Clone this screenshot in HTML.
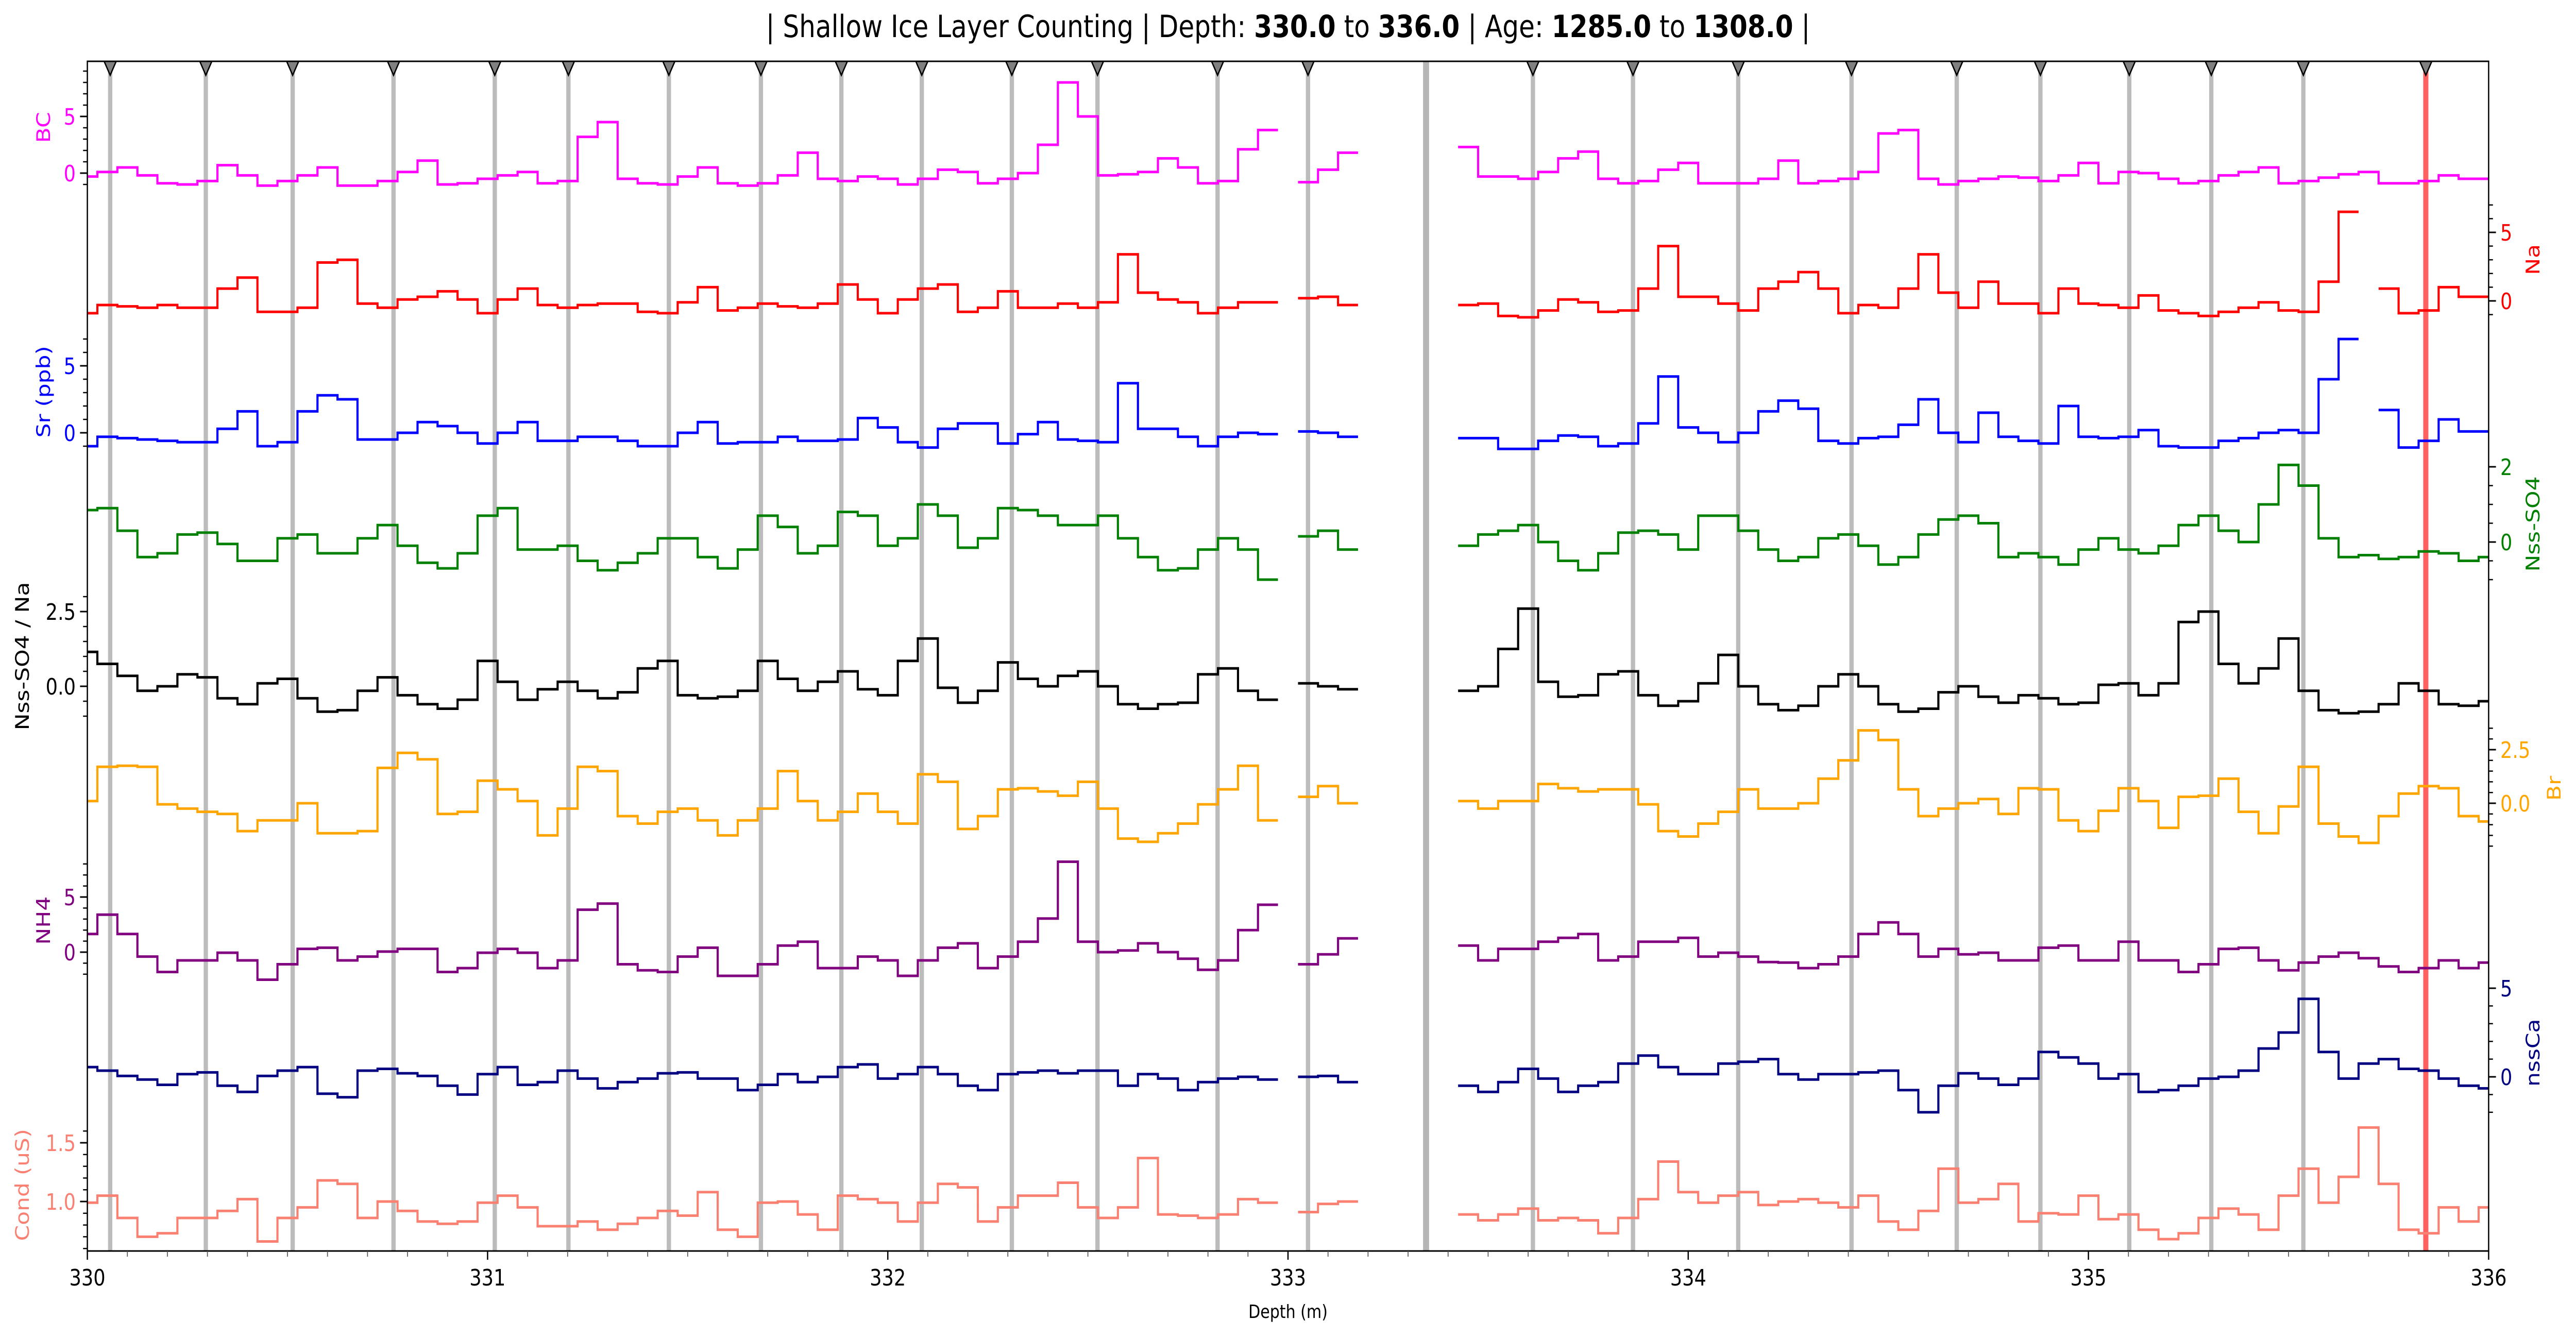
<!DOCTYPE html>
<html><head><meta charset="utf-8"><style>
html,body{margin:0;padding:0;background:#fff;width:100%;height:100%;overflow:hidden;}
svg{display:block;position:absolute;left:0;top:0;width:100vw;height:100vh;font-family:"DejaVu Sans","Liberation Sans",sans-serif;}
</style></head><body>
<svg id="chart" xmlns="http://www.w3.org/2000/svg" viewBox="0 0 5986 2593" preserveAspectRatio="none">
<rect x="0" y="0" width="5986" height="2593" fill="#fff"/>
<text x="2993" y="72" text-anchor="middle" font-size="60">| Shallow Ice Layer Counting | Depth: <tspan font-weight="bold">330.0</tspan> to <tspan font-weight="bold">336.0</tspan> | Age: <tspan font-weight="bold">1285.0</tspan> to <tspan font-weight="bold">1308.0</tspan> |</text>
<g id="layers"></g>
<g id="series"></g>
<g id="axes"></g>
<text x="2993" y="2558" text-anchor="middle" font-size="36">Depth (m)</text>
</svg>
<script>
const N = null;
const layerDepths = [330.057,330.296,330.513,330.765,331.018,331.202,331.453,331.683,331.884,332.085,332.31,332.524,332.824,333.05,333.612,333.862,334.125,334.408,334.671,334.88,335.102,335.307,335.537];
const gapDepth = 333.345;
const redDepth = 335.843;
const xTickValues = [330,331,332,333,334,335,336];
const xTickLabels = ["330","331","332","333","334","335","336"];

const bcValues = [-0.3,0.1,0.5,-0.2,-0.9,-1.0,-0.7,0.7,-0.2,-1.1,-0.7,-0.2,0.5,-1.1,-1.1,-0.7,0.1,1.1,-1.0,-0.9,-0.5,-0.2,0.1,-0.9,-0.7,3.2,4.5,-0.5,-0.9,-1.0,-0.3,
0.5,-0.9,-1.1,-0.9,-0.2,1.8,-0.5,-0.7,-0.3,-0.5,-1.0,-0.5,0.3,0.1,-0.9,-0.5,0,2.5,8.0,5.0,-0.2,-0.1,0.1,1.3,0.5,-0.9,-0.7,2.1,3.8,
N,-0.8,0.3,1.8,N,N,N,N,N,
2.3,-0.3,-0.3,-0.5,0.1,1.3,1.9,-0.5,-0.9,-0.7,0.3,0.9,-0.9,-0.9,-0.9,-0.5,1.1,-0.9,-0.7,-0.5,0.1,3.5,3.8,-0.5,-1.0,-0.7,
-0.5,-0.3,-0.4,-0.7,-0.2,0.9,-0.9,0.1,0,-0.5,-0.9,-0.7,-0.2,0.1,0.5,-0.9,-0.7,-0.4,-0.1,0.1,-0.9,-0.9,-0.7,-0.2,-0.5,-0.5];
const naValues = [-0.9,-0.3,-0.4,-0.5,-0.3,-0.5,-0.5,0.9,1.7,-0.8,-0.8,-0.5,2.8,3.0,-0.2,-0.5,0.1,0.3,0.7,0.1,-0.9,0.1,0.9,-0.3,-0.5,-0.3,-0.2,-0.2,-0.8,-0.9,
-0.1,1.0,-0.7,-0.5,-0.2,-0.4,-0.5,-0.2,1.2,0.1,-0.9,0.1,0.9,1.2,-0.8,-0.5,0.7,-0.5,-0.5,-0.2,-0.5,-0.1,3.4,0.6,0.1,-0.1,-0.9,-0.5,-0.1,-0.1,
N,0.2,0.3,-0.3,N,N,N,N,N,
-0.3,-0.2,-1.1,-1.2,-0.7,0.1,-0.1,-0.8,-0.7,0.9,4.0,0.3,0.3,-0.2,-0.7,0.9,1.4,2.1,0.9,-0.9,-0.3,-0.5,0.9,3.4,0.6,-0.5,
1.4,-0.2,-0.2,-0.9,0.9,-0.2,-0.3,-0.5,0.4,-0.7,-0.9,-1.1,-0.8,-0.5,-0.1,-0.7,-0.8,1.4,6.5,N,0.9,-0.9,-0.7,1.0,0.3,0.3];
const srValues = [-1.0,-0.3,-0.4,-0.5,-0.6,-0.7,-0.7,0.3,1.6,-1.0,-0.7,1.6,2.8,2.5,-0.5,-0.5,0,0.8,0.5,0,-0.8,0,0.8,-0.6,-0.6,-0.3,-0.3,-0.6,-1.0,-1.0,0,
0.8,-0.8,-0.7,-0.7,-0.3,-0.6,-0.6,-0.5,1.1,0.4,-0.7,-1.1,0.3,0.7,0.7,-0.8,-0.1,0.8,-0.5,-0.6,-0.7,3.7,0.3,0.3,-0.3,-1.0,-0.3,0,-0.1,
N,0.1,0,-0.3,N,N,N,N,N,
-0.4,-0.4,-1.2,-1.2,-0.6,-0.2,-0.3,-1.0,-0.8,0.7,4.2,0.4,0,-0.7,0,1.6,2.4,1.8,-0.6,-0.8,-0.4,-0.3,0.6,2.5,0,-0.7,
1.5,-0.3,-0.6,-0.8,2.0,-0.3,-0.4,-0.3,0.2,-1.0,-1.1,-1.1,-0.6,-0.4,0,0.2,0,4.0,7.0,N,1.7,-1.1,-0.6,1.0,0.1,0.1];
const so4Values = [0.85,0.9,0.3,-0.4,-0.3,0.2,0.25,-0.05,-0.5,-0.5,0.1,0.2,-0.3,-0.3,0.1,0.45,-0.1,-0.55,-0.7,-0.3,0.7,0.9,-0.2,-0.2,-0.1,-0.5,-0.75,-0.55,-0.3,0.1,0.1,
-0.4,-0.7,-0.2,0.7,0.4,-0.3,-0.1,0.8,0.7,-0.1,0.1,1.0,0.7,-0.15,0.1,0.9,0.85,0.7,0.45,0.45,0.7,0.1,-0.4,-0.75,-0.7,-0.2,0.1,-0.2,-1.0,
N,0.15,0.3,-0.2,N,N,N,N,N,
-0.1,0.2,0.3,0.45,0,-0.5,-0.75,-0.3,0.25,0.3,0.2,-0.2,0.7,0.7,0.3,-0.2,-0.5,-0.4,0.1,0.2,-0.1,-0.6,-0.4,0.2,0.6,0.7,
0.5,-0.4,-0.3,-0.4,-0.6,-0.2,0.1,-0.2,-0.3,-0.1,0.45,0.7,0.3,0,1.0,2.05,1.5,0.1,-0.4,-0.35,-0.45,-0.4,-0.25,-0.3,-0.5,-0.4];
const ratioValues = [1.15,0.75,0.35,-0.15,0,0.4,0.3,-0.4,-0.6,0.1,0.25,-0.4,-0.85,-0.8,-0.15,0.3,-0.3,-0.6,-0.75,-0.45,0.85,0.15,-0.45,-0.1,0.15,-0.15,-0.4,-0.2,0.6,0.85,-0.3,
-0.4,-0.35,-0.15,0.85,0.25,-0.15,0.15,0.5,-0.1,-0.3,0.85,1.6,-0.05,-0.55,-0.15,0.8,0.25,0,0.35,0.5,0,-0.6,-0.75,-0.6,-0.55,0.4,0.6,-0.15,-0.45,
N,0.1,0,-0.1,N,N,N,N,N,
-0.15,0,1.25,2.6,0.15,-0.35,-0.3,0.4,0.5,-0.3,-0.65,-0.5,0.1,1.05,0,-0.6,-0.8,-0.65,0,0.4,0,-0.6,-0.85,-0.75,-0.2,0,
-0.35,-0.55,-0.3,-0.4,-0.6,-0.55,0.05,0.1,-0.3,0.1,2.15,2.5,0.75,0.1,0.6,1.6,-0.15,-0.8,-0.9,-0.85,-0.6,0.1,-0.15,-0.6,-0.65,-0.5];
const brValues = [0.1,1.7,1.75,1.7,-0.05,-0.25,-0.4,-0.5,-1.3,-0.8,-0.8,0,-1.4,-1.4,-1.3,1.65,2.35,2.05,-0.5,-0.4,1.05,0.65,0.1,-1.5,-0.25,1.7,1.5,-0.6,-0.95,-0.4,-0.25,
-0.8,-1.5,-0.8,-0.25,1.5,0.1,-0.8,-0.4,0.45,-0.4,-0.95,1.35,1.0,-1.2,-0.6,0.65,0.7,0.55,0.35,1.0,-0.25,-1.65,-1.8,-1.4,-0.95,-0.05,0.65,1.75,-0.8,
N,0.3,0.8,0,N,N,N,N,N,
0.1,-0.25,0.1,0.1,0.9,0.7,0.55,0.65,0.65,-0.05,-1.3,-1.55,-0.95,-0.4,0.65,-0.25,-0.25,0,1.15,2.0,3.4,2.95,0.65,-0.6,-0.25,0,
0.2,-0.5,0.7,0.65,-0.8,-1.3,-0.35,0.7,0.1,-1.15,0.3,0.35,1.15,-0.4,-1.4,-0.15,1.7,-0.95,-1.55,-1.85,-0.6,0.45,0.8,0.7,-0.6,-0.85];
const nh4Values = [1.65,3.4,1.65,-0.4,-1.8,-0.75,-0.75,-0.05,-0.75,-2.5,-1.1,0.3,0.4,-0.75,-0.4,0.05,0.3,0.3,-1.8,-1.45,-0.05,0.3,-0.05,-1.45,-0.75,3.85,4.4,-1.1,-1.65,-1.8,-0.4,
0.4,-2.15,-2.15,-1.1,0.6,0.95,-1.45,-1.45,-0.4,-0.75,-2.15,-0.75,0.4,0.8,-1.45,-0.4,0.95,3.05,8.2,0.95,0,0.15,0.8,0,-0.6,-1.6,-0.75,2.0,4.3,
N,-1.1,-0.2,1.25,N,N,N,N,N,
0.6,-0.75,0.3,0.3,0.95,1.3,1.65,-0.75,-0.4,0.95,0.95,1.3,-0.4,-0.05,-0.4,-0.9,-0.95,-1.45,-1.1,-0.4,1.65,2.7,1.65,-0.4,0.3,-0.2,
-0.05,-0.75,-0.75,0.4,0.6,-0.75,-0.75,0.95,-0.75,-0.75,-1.8,-1.1,0.3,0.4,-0.75,-1.65,-0.95,-0.4,-0.05,-0.55,-1.3,-1.8,-1.45,-0.75,-1.45,-0.95];
const nsscaValues = [0.55,0.35,0.05,-0.15,-0.45,0.15,0.25,-0.5,-0.85,0.05,0.35,0.55,-0.95,-1.15,0.35,0.45,0.2,0.05,-0.5,-1.0,0.15,0.55,-0.45,-0.3,0.35,-0.1,-0.65,-0.3,-0.1,0.2,0.25,
-0.1,-0.1,-0.75,-0.45,0.15,-0.3,0,0.55,0.7,-0.1,0.15,0.55,0.15,-0.5,-0.75,0.15,0.25,0.35,0.2,0.35,0.35,-0.5,0.15,-0.1,-0.75,-0.3,-0.1,0,-0.15,
N,0,0.05,-0.3,N,N,N,N,N,
-0.5,-0.85,-0.3,0.45,-0.1,-0.85,-0.5,-0.3,0.75,1.2,0.55,0.15,0.15,0.75,0.85,1.0,0.15,-0.15,0.15,0.15,0.25,0.35,-0.75,-2.0,-0.5,0.2,
-0.1,-0.45,-0.1,1.4,1.1,0.75,-0.1,0.15,-0.85,-0.75,-0.5,-0.1,0,0.35,1.6,2.5,4.4,1.4,-0.1,0.75,1.0,0.45,0.35,-0.1,-0.5,-0.65];
const condValues = [0.99,1.05,0.86,0.7,0.73,0.86,0.86,0.92,1.02,0.66,0.86,0.95,1.18,1.15,0.86,1.0,0.92,0.83,0.81,0.83,0.99,1.05,0.95,0.79,0.79,0.83,0.76,0.81,0.86,0.92,0.88,
1.08,0.76,0.7,0.99,1.0,0.89,0.76,1.05,1.02,0.99,0.83,0.99,1.15,1.12,0.83,0.95,1.05,1.05,1.16,0.95,0.86,0.95,1.37,0.89,0.88,0.86,0.89,1.02,0.99,
N,0.91,0.98,1.0,N,N,N,N,N,
0.89,0.84,0.89,0.94,0.84,0.86,0.84,0.73,0.86,1.02,1.34,1.08,0.99,1.05,1.08,0.97,1.0,1.02,0.99,0.95,1.05,0.83,0.76,0.92,1.28,0.99,
1.02,1.15,0.83,0.9,0.89,1.05,0.85,0.89,0.76,0.68,0.73,0.86,0.94,0.89,0.76,1.05,1.28,0.99,1.21,1.63,1.15,0.76,0.73,0.95,0.83,0.95];

const bcTicks = ["0","5"], naTicks = ["0","5"], srTicks = ["0","5"], so4Ticks = ["0","2"], ratioTicks = ["0.0","2.5"], brTicks = ["0.0","2.5"], nh4Ticks = ["0","5"], nsscaTicks = ["0","5"], condTicks = ["1.0","1.5"];

const NS = "http://www.w3.org/2000/svg";
const L = 203, R = 5783, T = 119, B = 2428;
const bandH = (B - T) / 9;
const HALF = 0.025;
function xs(d){ return L + (d - 330) * 930; }
function mk(tag, attrs, parent){ const e = document.createElementNS(NS, tag); for (const k in attrs) e.setAttribute(k, attrs[k]); parent.appendChild(e); return e; }

const series = [
 {key:"bc", label:"BC", data:bcValues, ticks:bcTicks, color:"#ff00ff", ref:0, pix:336, ppu:22, side:"L", minStep:1, tx:101},
 {key:"na", label:"Na", data:naValues, ticks:naTicks, color:"#ff0000", ref:0, pix:584, ppu:26.6, side:"R", minStep:1, tx:5886},
 {key:"sr", label:"Sr (ppb)", data:srValues, ticks:srTicks, color:"#0000ff", ref:0, pix:840, ppu:26, side:"L", minStep:1, tx:101},
 {key:"so4", label:"Nss-SO4", data:so4Values, ticks:so4Ticks, color:"#008000", ref:0, pix:1052, ppu:73, side:"R", minStep:0.5, tx:5886},
 {key:"ratio", label:"Nss-SO4 / Na", data:ratioValues, ticks:ratioTicks, color:"#000000", ref:0, pix:1332, ppu:58, side:"L", minStep:0.5, tx:52},
 {key:"br", label:"Br", data:brValues, ticks:brTicks, color:"#ffa500", ref:0, pix:1559, ppu:41.6, side:"R", minStep:0.5, tx:5935},
 {key:"nh4", label:"NH4", data:nh4Values, ticks:nh4Ticks, color:"#800080", ref:0, pix:1848, ppu:21.4, side:"L", minStep:1, tx:101},
 {key:"nssca", label:"nssCa", data:nsscaValues, ticks:nsscaTicks, color:"#000080", ref:0, pix:2090, ppu:34.4, side:"R", minStep:1, tx:5886},
 {key:"cond", label:"Cond (uS)", data:condValues, ticks:condTicks, color:"#fa8072", ref:1, pix:2332, ppu:228, side:"L", minStep:0.1, tx:52}
];

const layersG = document.getElementById("layers");
const seriesG = document.getElementById("series");
const axesG = document.getElementById("axes");

layerDepths.forEach(function(d){
  const ln = mk("rect", {x: xs(d)-5, y: T, width: 10, height: B-T, fill: "#bcbcbc"}, layersG);
  
  
});
const gl = mk("rect", {x: xs(gapDepth)-7, y: T, width: 14, height: B-T, fill: "#b5b5b5"}, layersG);


const rl = mk("rect", {x: xs(redDepth)-6, y: T, width: 12, height: B-T, fill: "#ff6060"}, layersG);



series.forEach(function(s, si){
  let segs = [], cur = [];
  s.data.forEach(function(v, i){
    const d = 330 + i * 0.05;
    if (v === null) { if (cur.length) segs.push(cur); cur = []; return; }
    cur.push([d, s.pix - (v - s.ref) * s.ppu]);
  });
  if (cur.length) segs.push(cur);
  let dstr = "";
  segs.forEach(function(sg){
    let pts = [];
    sg.forEach(function(p, k){
      const x0 = xs(Math.max(330, p[0] - HALF)), x1 = xs(Math.min(336, p[0] + HALF));
      pts.push([x0, p[1]]); pts.push([x1, p[1]]);
    });
    dstr += "M" + pts.map(p => p[0].toFixed(1) + " " + p[1].toFixed(1)).join(" L");
  });
  const p = mk("path", {d: dstr, fill: "none", stroke: s.color, "stroke-width": 5, "stroke-linejoin": "miter"}, seriesG);
  
  

  const bTop = T + si * bandH, bBot = bTop + bandH;
  const ax = s.side === "L" ? L : R;
  const dir = s.side === "L" ? -1 : 1;
  for (let v = -10; v <= 10; v += s.minStep) {
    const vv = Math.round(v * 100) / 100;
    const y = s.pix - (vv - s.ref) * s.ppu;
    if (y < bTop + 3 || y > bBot - 3) continue;
    const t = mk("line", {x1: ax, x2: ax + dir * 10, y1: y, y2: y, stroke: "#000", "stroke-width": 2.5}, axesG);
    
    
  }
  const step = s.key === "so4" ? 2 : (s.key === "cond" ? 0.5 : (s.key === "ratio" || s.key === "br" ? 2.5 : 5));
  s.ticks.forEach(function(lab, k){
    const v = s.ref + k * step;
    const y = s.pix - (v - s.ref) * s.ppu;
    const t = mk("line", {x1: ax, x2: ax + dir * 17, y1: y, y2: y, stroke: "#000", "stroke-width": 3}, axesG);
    
    
    const tl = mk("text", {x: ax + dir * 27, y: y + 16, "font-size": 44, fill: s.color, "text-anchor": s.side === "L" ? "end" : "start"}, axesG);
    tl.textContent = lab;
    
    
  });
  const cy = bTop + bandH / 2;
  const at = mk("text", {x: s.tx, y: cy, "font-size": 44, fill: s.color, "text-anchor": "middle", "dominant-baseline": "central", transform: "rotate(-90 " + s.tx + " " + cy + ")"}, axesG);
  at.textContent = s.label;
  
  
});

const fr = mk("rect", {x: L, y: T, width: R-L, height: B-T, fill: "none", stroke: "#000", "stroke-width": 3}, axesG);



for (let i = 0; i <= 60; i++) {
  const d = 330 + i * 0.1;
  const major = i % 10 === 0;
  const t = mk("line", {x1: xs(d), x2: xs(d), y1: B, y2: B + (major ? 17 : 11), stroke: major ? "#000" : "#555", "stroke-width": major ? 3 : 2}, axesG);
  
  
}
xTickValues.forEach(function(v, i){
  const tl = mk("text", {x: xs(v), y: B + 67, "font-size": 44, "text-anchor": "middle", fill: "#000"}, axesG);
  tl.textContent = xTickLabels[i];
  
  
});

layerDepths.concat([redDepth]).forEach(function(d){
  const x = xs(d);
  const tr = mk("polygon", {points: (x-14)+","+T+" "+(x+14)+","+T+" "+x+","+(T+27), fill: "#808080", stroke: "#000", "stroke-width": 3}, axesG);
  
  
});
</script>
</body></html>
